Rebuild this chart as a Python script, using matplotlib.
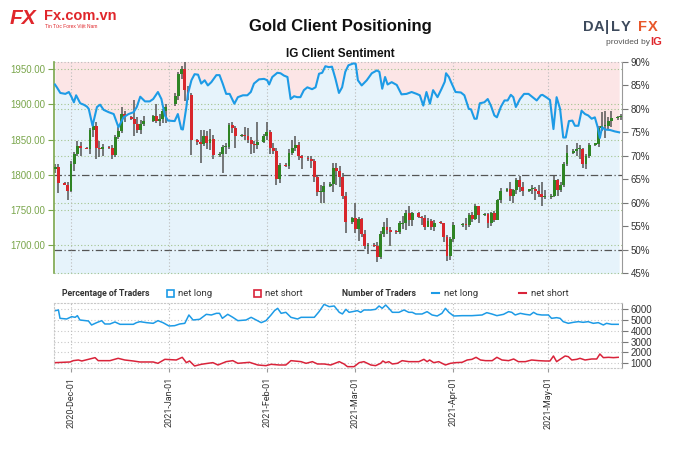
import numpy as np
import matplotlib
matplotlib.use("Agg")
import matplotlib.pyplot as plt
import matplotlib.dates as mdates
from matplotlib.patches import Rectangle
from matplotlib.lines import Line2D

plt.rcParams["font.family"] = ["Liberation Sans", "DejaVu Sans"]
SMALL = ["Roboto", "Liberation Sans", "DejaVu Sans"]

# ---------------------------------------------------------------------------
# Data
# ---------------------------------------------------------------------------

FIRST_DAY, LAST_DAY = "2020-11-26", "2021-05-25"
HOLIDAYS = ["2020-12-25", "2021-01-01", "2021-04-02"]

# daily gold candles, sunday sessions included
OPEN = [1808, 1811, 1788, 1786, 1777, 1815, 1830, 1841, 1838, 1837, 1863, 1870, 1838, 1836,
        1839, 1838, 1828, 1854, 1862, 1887, 1882, 1880, 1872, 1864, 1872, 1876, 1883, 1877,
        1880, 1890, 1900, 1912, 1944, 1950, 1921, 1913, 1849, 1846, 1844, 1855, 1845, 1851,
        1828, 1830, 1840, 1840, 1871, 1866, 1855, 1856, 1855, 1850, 1844, 1842, 1847, 1855,
        1861, 1838, 1834, 1794, 1814, 1812, 1831, 1838, 1842, 1826, 1824, 1822, 1819, 1797,
        1775, 1775, 1784, 1787, 1809, 1806, 1797, 1770, 1733, 1738, 1723, 1737, 1715, 1698,
        1700, 1699, 1683, 1716, 1726, 1722, 1719, 1718, 1730, 1731, 1745, 1736, 1745, 1740,
        1738, 1726, 1734, 1726, 1732, 1731, 1712, 1685, 1708, 1728, 1730, 1728, 1743, 1737,
        1755, 1743, 1744, 1732, 1746, 1736, 1764, 1777, 1779, 1770, 1778, 1793, 1783, 1777,
        1779, 1780, 1777, 1773, 1768, 1768, 1770, 1792, 1778, 1785, 1815, 1831, 1834, 1836,
        1837, 1815, 1826, 1843, 1844, 1867, 1869, 1869, 1877, 1881, 1882]
HIGH = [1815, 1815, 1790, 1790, 1820, 1833, 1848, 1847, 1840, 1866, 1875, 1875, 1848, 1844,
        1841, 1842, 1856, 1868, 1896, 1890, 1884, 1907, 1882, 1878, 1884, 1885, 1900, 1886,
        1893, 1900, 1916, 1946, 1955, 1960, 1926, 1917, 1851, 1864, 1864, 1862, 1865, 1857,
        1832, 1843, 1845, 1873, 1875, 1869, 1858, 1868, 1866, 1853, 1848, 1875, 1858, 1875,
        1864, 1845, 1838, 1816, 1816, 1836, 1849, 1855, 1846, 1828, 1826, 1827, 1823, 1800,
        1785, 1790, 1789, 1816, 1817, 1813, 1802, 1775, 1740, 1760, 1740, 1739, 1722, 1703,
        1703, 1704, 1720, 1733, 1739, 1725, 1722, 1734, 1741, 1750, 1755, 1747, 1747, 1742,
        1743, 1738, 1737, 1736, 1734, 1732, 1714, 1712, 1733, 1731, 1738, 1745, 1747, 1759,
        1756, 1745, 1746, 1747, 1749, 1766, 1781, 1781, 1790, 1779, 1795, 1798, 1789, 1780,
        1786, 1783, 1785, 1790, 1778, 1772, 1798, 1794, 1790, 1818, 1843, 1836, 1845, 1843,
        1838, 1829, 1845, 1845, 1869, 1889, 1890, 1882, 1890, 1884, 1886]
LOW = [1803, 1774, 1785, 1764, 1775, 1806, 1827, 1826, 1836, 1829, 1853, 1822, 1825, 1826,
       1837, 1822, 1825, 1851, 1859, 1875, 1878, 1855, 1860, 1858, 1870, 1875, 1873, 1870,
       1874, 1874, 1898, 1906, 1936, 1905, 1907, 1828, 1843, 1817, 1841, 1837, 1835, 1823,
       1825, 1803, 1830, 1837, 1859, 1838, 1853, 1849, 1845, 1830, 1831, 1836, 1845, 1850,
       1830, 1830, 1785, 1788, 1811, 1808, 1828, 1834, 1821, 1808, 1820, 1810, 1790, 1770,
       1760, 1760, 1783, 1775, 1785, 1782, 1765, 1717, 1730, 1717, 1706, 1712, 1695, 1687,
       1697, 1676, 1680, 1712, 1716, 1699, 1716, 1715, 1723, 1722, 1727, 1727, 1738, 1728,
       1722, 1725, 1721, 1720, 1730, 1705, 1677, 1678, 1705, 1726, 1722, 1725, 1733, 1735,
       1732, 1741, 1724, 1727, 1733, 1735, 1760, 1775, 1762, 1760, 1772, 1776, 1770, 1776,
       1772, 1764, 1769, 1756, 1766, 1766, 1768, 1770, 1776, 1783, 1812, 1830, 1827, 1822,
       1809, 1808, 1824, 1841, 1840, 1862, 1852, 1865, 1868, 1878, 1878]
CLOSE = [1811, 1788, 1786, 1777, 1815, 1830, 1841, 1838, 1837, 1863, 1870, 1838, 1836, 1839,
         1838, 1828, 1854, 1862, 1887, 1882, 1880, 1872, 1864, 1872, 1876, 1883, 1877, 1880,
         1890, 1896, 1912, 1944, 1950, 1921, 1913, 1849, 1846, 1844, 1855, 1845, 1851, 1828,
         1830, 1840, 1840, 1871, 1866, 1855, 1856, 1855, 1850, 1844, 1842, 1847, 1855, 1861,
         1838, 1834, 1794, 1814, 1812, 1831, 1838, 1842, 1826, 1824, 1822, 1819, 1797, 1775,
         1775, 1784, 1787, 1809, 1806, 1797, 1770, 1733, 1738, 1723, 1737, 1715, 1698, 1700,
         1699, 1683, 1716, 1726, 1722, 1719, 1718, 1731, 1732, 1745, 1736, 1745, 1740, 1738,
         1726, 1734, 1726, 1732, 1731, 1712, 1685, 1708, 1728, 1730, 1728, 1743, 1737, 1755,
         1743, 1744, 1732, 1746, 1736, 1764, 1777, 1779, 1770, 1778, 1793, 1783, 1777, 1779,
         1780, 1777, 1773, 1768, 1769, 1770, 1792, 1778, 1785, 1815, 1831, 1834, 1836, 1837,
         1815, 1826, 1843, 1844, 1867, 1869, 1870, 1877, 1881, 1882, 1884]

# IG client sentiment, % of traders net long (days after 2020-12-01)
SENT_DAY = [-5.1, -4.4, -3.4, -1.8, -0.7, 0.1, 0.9, 1.6, 2.9, 4.0, 5.0, 5.6, 6.8, 8.2, 9.2,
            10.3, 11.9, 13.5, 15.0, 16.6, 18.2, 19.8, 20.8, 21.9, 23.4, 24.9, 26.0, 27.5,
            28.6, 29.7, 30.7, 32.8, 33.8, 34.9, 35.4, 36.5, 37.0, 38.1, 39.1, 40.2, 41.2,
            42.3, 43.3, 44.4, 46.0, 47.0, 48.0, 49.1, 50.2, 51.7, 52.8, 54.4, 55.8, 56.9,
            57.9, 59.5, 61.1, 62.1, 62.7, 63.7, 65.3, 66.3, 67.4, 68.5, 69.5, 70.6, 71.6,
            72.6, 73.7, 74.8, 76.3, 77.4, 78.5, 79.5, 80.5, 81.6, 82.6, 83.7, 84.8, 85.8,
            86.8, 87.8, 89.4, 90.1, 90.8, 92.0, 93.6, 95.2, 96.8, 97.6, 98.5, 99.4, 100.2,
            101.5, 103.1, 104.6, 106.2, 107.8, 109.4, 110.4, 111.5, 112.5, 113.6, 114.6,
            116.0, 117.3, 118.3, 118.7, 119.6, 120.3, 121.7, 123.4, 124.5, 125.9, 126.6,
            127.7, 128.4, 129.4, 130.8, 131.9, 132.9, 134.0, 134.8, 136.1, 137.2, 138.2,
            139.2, 140.0, 140.8, 142.1, 143.4, 144.8, 146.1, 147.4, 148.7, 149.2, 150.6,
            151.6, 152.7, 153.7, 154.8, 155.8, 156.6, 157.6, 158.7, 159.5, 160.6, 161.6,
            162.7, 163.7, 164.8, 165.8, 166.7, 167.4, 168.1, 169.0, 170.6, 172.1, 173.5]
SENT_LONG = [85.2, 84.5, 83.4, 83.2, 83.6, 82.6, 81.4, 82.9, 81.2, 80.9, 80.5, 80.0, 76.4,
             80.4, 80.9, 79.8, 79.3, 78.9, 76.1, 78.2, 78.9, 79.3, 80.4, 82.6, 81.6, 81.6,
             82.1, 83.6, 82.1, 78.6, 77.5, 77.4, 78.9, 75.7, 75.6, 80.4, 83.2, 86.1, 87.4,
             87.3, 85.4, 86.1, 85.0, 85.7, 87.2, 87.2, 85.4, 83.2, 83.2, 81.1, 82.5, 82.9,
             82.9, 83.6, 85.4, 86.3, 86.4, 86.1, 85.2, 86.8, 87.7, 87.6, 87.1, 86.8, 82.1,
             82.7, 82.5, 82.5, 84.0, 84.6, 84.2, 84.6, 87.5, 87.7, 89.1, 88.9, 89.0, 86.4,
             83.4, 84.6, 87.9, 89.3, 89.7, 89.6, 86.1, 85.0, 86.1, 87.6, 88.2, 87.9, 84.3,
             86.8, 85.2, 85.7, 85.1, 83.1, 83.2, 83.6, 83.2, 82.9, 80.7, 83.6, 81.1, 84.0,
             82.5, 84.3, 85.8, 87.6, 86.8, 85.7, 83.6, 83.5, 82.9, 80.0, 79.9, 77.9, 77.9,
             81.2, 81.4, 82.1, 80.7, 78.6, 78.2, 80.5, 81.8, 81.8, 83.0, 82.5, 80.4, 82.1,
             83.2, 83.2, 82.5, 81.8, 82.9, 83.0, 82.4, 81.9, 75.7, 82.5, 80.0, 73.9, 73.9,
             77.4, 77.5, 76.4, 76.4, 79.6, 78.9, 78.6, 77.9, 78.2, 76.1, 73.8, 76.1, 75.6,
             75.5, 75.2, 75.0]

# number of traders (days after 2020-12-01)
LONG_DAY = [-5.0, -4.0, -3.5, -1.4, 0.2, 1.3, 2.0, 2.8, 5.5, 6.5, 8.1, 9.7, 10.7, 12.3, 13.9,
            15.5, 17.6, 19.7, 20.7, 21.8, 23.9, 26.0, 27.5, 29.1, 31.0, 32.8, 34.4, 36.0,
            37.3, 38.6, 40.7, 42.8, 44.4, 46.0, 47.0, 47.9, 49.6, 51.2, 52.8, 55.4, 57.0,
            58.6, 60.2, 61.7, 63.3, 64.4, 65.4, 66.5, 68.0, 69.6, 71.7, 72.8, 75.4, 77.0,
            78.5, 80.1, 81.7, 83.3, 84.9, 85.9, 87.0, 88.0, 89.1, 90.6, 91.7, 92.7, 94.9,
            96.4, 97.5, 98.5, 99.6, 100.6, 101.7, 103.8, 105.4, 106.9, 108.0, 109.1, 111.1,
            112.7, 114.3, 115.9, 117.4, 118.5, 119.6, 121.1, 123.8, 126.9, 130.1, 131.6,
            133.2, 134.8, 136.9, 138.5, 139.5, 140.6, 142.2, 143.8, 145.3, 146.4, 147.5,
            149.0, 151.1, 152.1, 153.7, 154.8, 155.8, 157.4, 159.0, 160.6, 162.1, 163.7,
            165.3, 166.9, 168.5, 169.5, 171.1, 173.2]
LONG_COUNT = [5874, 5936, 5164, 5102, 5318, 5257, 5411, 5010, 4917, 4547, 4763, 4948, 4640,
              4640, 4825, 4609, 4609, 4609, 4763, 4855, 4763, 4701, 4948, 4763, 4454, 4485,
              4640, 4701, 5473, 5010, 5072, 5534, 5473, 5627, 5627, 5164, 5534, 5257, 4948,
              5010, 5257, 5010, 4763, 4948, 5473, 5874, 6090, 5627, 5720, 5257, 5102, 5257,
              5257, 5257, 5781, 6460, 6244, 6306, 5720, 5570, 5997, 5720, 5781, 5874, 5720,
              5936, 5936, 5997, 6306, 6090, 6398, 6090, 5720, 5720, 5936, 5720, 5720, 5565,
              5565, 5781, 5473, 5380, 5627, 6090, 5720, 5380, 5411, 5411, 5473, 5689, 5565,
              5411, 5534, 5781, 5720, 5473, 5627, 5534, 5473, 5720, 5534, 5473, 5473, 5164,
              5226, 5164, 4855, 4701, 4794, 4855, 4794, 4855, 4701, 4763, 4547, 4701, 4609,
              4609]
SHORT_DAY = [-5.0, -0.3, 0.7, 2.3, 3.4, 5.5, 7.6, 8.6, 12.3, 14.9, 17.0, 19.7, 21.8, 26.0,
             27.5, 29.7, 33.3, 35.2, 36.5, 37.5, 39.1, 41.2, 43.3, 44.9, 46.5, 49.1, 51.2,
             52.8, 56.5, 59.1, 61.7, 63.3, 65.9, 68.0, 69.6, 72.8, 74.4, 76.4, 78.0, 80.1,
             82.2, 84.9, 86.4, 87.5, 89.6, 91.2, 92.7, 93.8, 94.9, 96.4, 98.0, 98.7, 99.6,
             100.6, 101.7, 103.3, 104.8, 106.9, 110.1, 111.7, 112.7, 113.5, 114.8, 116.4,
             118.5, 120.1, 121.7, 123.8, 125.4, 126.9, 128.2, 129.6, 131.2, 133.3, 134.8,
             136.4, 138.5, 140.1, 141.6, 143.8, 145.8, 148.0, 150.1, 151.6, 152.7, 153.7,
             154.8, 156.4, 157.4, 158.5, 160.1, 161.1, 162.7, 164.8, 166.4, 167.4, 168.5,
             170.1, 171.7, 173.2]
SHORT_COUNT = [1060, 1122, 1245, 1307, 1214, 1368, 1523, 1245, 1245, 1461, 1307, 1214, 1122,
               1122, 998, 1368, 1307, 1554, 1060, 1214, 751, 906, 998, 1060, 844, 1152, 1245,
               998, 1091, 844, 782, 906, 844, 844, 1245, 1152, 998, 1152, 936, 936, 844,
               1152, 936, 689, 689, 1060, 1152, 998, 844, 782, 998, 1214, 1060, 1152, 936,
               998, 1245, 1152, 1152, 1368, 1152, 1307, 1060, 1152, 844, 998, 1060, 1091,
               1307, 1368, 1554, 1307, 1245, 1245, 1554, 1307, 1245, 1399, 1152, 1152, 1307,
               1245, 1214, 1214, 1677, 1152, 1368, 1677, 1615, 1307, 1368, 1461, 1307, 1399,
               1399, 1862, 1523, 1554, 1523, 1554]

PRICE_TICKS = [1700, 1750, 1800, 1850, 1900, 1950]
PCT_TICKS = [45, 50, 55, 60, 65, 70, 75, 80, 85, 90]
COUNT_TICKS = [1000, 2000, 3000, 4000, 5000, 6000]
MONTHS = ["2020-12-01", "2021-01-01", "2021-02-01", "2021-03-01", "2021-04-01", "2021-05-01"]

# ---------------------------------------------------------------------------
# Styling
# ---------------------------------------------------------------------------

UP, DOWN, WICK = "#2f8424", "#d8262c", "#555555"
LINE_BLUE, LINE_RED = "#1d9be6", "#d9233a"
FILL_LONG, FILL_SHORT = "#e6f3fb", "#fce5e6"
GRID_GREEN, AXIS_GREEN = "#a3c48e", "#7aa64c"
TXT = "#333333"
GRID_DOT = (0, (1, 2))
DASH_DOT = (0, (6, 2, 1, 2))

days = np.arange(np.datetime64(FIRST_DAY), np.datetime64(LAST_DAY))
days = days[np.is_busday(days, weekmask="1111101", holidays=HOLIDAYS)]
x = mdates.date2num(days)
o, h, l, c = map(np.array, (OPEN, HIGH, LOW, CLOSE))
base = mdates.date2num(np.datetime64("2020-12-01"))
month_x = mdates.date2num(np.array(MONTHS, dtype="datetime64[D]"))
xlim = (base - 5.4, base + 174.4)

fig = plt.figure(figsize=(6.8, 4.53), dpi=100)

# ---------------------------------------------------------------------------
# Top panel: price candles + sentiment
# ---------------------------------------------------------------------------

ax = fig.add_axes([54 / 680, 1 - 273 / 453, 568 / 680, 211 / 453])
axp = ax.twinx()
axp.set_zorder(0)
ax.set_zorder(1)
ax.patch.set_visible(False)

sx = base + np.array(SENT_DAY)
sy = np.array(SENT_LONG)
axp.fill_between(sx, 0, sy, color=FILL_LONG, lw=0, zorder=0)
axp.fill_between(sx, sy, 100, color=FILL_SHORT, lw=0, zorder=0)
axp.set_facecolor(FILL_LONG)
for t in (60, 70, 80):
    axp.axhline(t, color=GRID_GREEN, ls=GRID_DOT, lw=0.8, zorder=1)
axp.axhline(50, color="#555555", ls=DASH_DOT, lw=0.9, zorder=1)
for mx in month_x:
    axp.axvline(mx, color="#bbbbbb", ls=GRID_DOT, lw=0.8, zorder=1)

for t in PRICE_TICKS:
    if t == 1800:
        ax.axhline(t, color="#555555", ls=DASH_DOT, lw=0.9, zorder=1)
    else:
        ax.axhline(t, color=GRID_GREEN, ls=GRID_DOT, lw=0.8, zorder=1)

up = c >= o
colors = np.where(up, UP, DOWN)
ax.vlines(x, l, h, color=WICK, lw=1.1, zorder=2)
body = np.maximum(np.abs(c - o), 1.5)
ax.bar(x, body, bottom=np.minimum(o, c), width=0.9, color=colors, lw=0, zorder=3)

ax.plot(sx, sy, color=LINE_BLUE, lw=1.5, transform=axp.transData, zorder=4,
        solid_joinstyle="round")

ax.set_xlim(*xlim)
ax.set_ylim(1660.2, 1960.4)
axp.set_ylim(45, 90)

ax.set_yticks(PRICE_TICKS)
ax.set_yticklabels([f"{t:.2f}" for t in PRICE_TICKS])
ax.tick_params(axis="y", colors=AXIS_GREEN, labelsize=7, length=4, width=0.8, pad=2)
ax.tick_params(axis="x", bottom=False, labelbottom=False)
axp.set_yticks(PCT_TICKS)
axp.set_yticklabels([f"{t}%" for t in PCT_TICKS])
axp.tick_params(axis="y", colors="#777777", labelsize=7, length=4, width=0.8, pad=2)
axp.tick_params(axis="x", bottom=False, labelbottom=False)
for lab in axp.get_yticklabels():
    lab.set_color(TXT)
for lab in ax.get_yticklabels():
    lab.set_color(AXIS_GREEN)

for a in (ax, axp):
    for s in a.spines.values():
        s.set_visible(False)
ax.spines["left"].set_visible(True)
ax.spines["left"].set_color(AXIS_GREEN)
ax.spines["left"].set_linewidth(1.2)
axp.spines["right"].set_visible(True)
axp.spines["right"].set_color("#999999")
ax.axhline(1960.4, color="#bbbbbb", ls=GRID_DOT, lw=0.8, zorder=1, clip_on=False)
ax.axhline(1660.2, color=GRID_GREEN, ls=GRID_DOT, lw=0.8, zorder=1, clip_on=False)

# ---------------------------------------------------------------------------
# Bottom panel: number of traders
# ---------------------------------------------------------------------------

axb = fig.add_axes([54 / 680, 1 - 368.3 / 453, 568 / 680, 65 / 453])
axb.plot(base + np.array(LONG_DAY), LONG_COUNT, color=LINE_BLUE, lw=1.1)
axb.plot(base + np.array(SHORT_DAY), SHORT_COUNT, color=LINE_RED, lw=1.1)
axb.set_xlim(*xlim)
axb.set_ylim(537, 6555)
for t in COUNT_TICKS:
    axb.axhline(t, color="#c8c8c8", ls=GRID_DOT, lw=0.8, zorder=0)
for mx in month_x:
    axb.axvline(mx, color="#bbbbbb", ls=GRID_DOT, lw=0.8, zorder=0)
axb.yaxis.tick_right()
axb.set_yticks(COUNT_TICKS)
axb.tick_params(axis="y", colors="#777777", labelsize=7, length=4, width=0.8, pad=2)
for lab in axb.get_yticklabels():
    lab.set_color(TXT)
axb.set_xticks(month_x)
axb.xaxis.set_major_formatter(mdates.DateFormatter("%Y-%b-%d"))
axb.tick_params(axis="x", labelsize=6.5, labelrotation=90, length=3, color="#999999",
                labelcolor=TXT, pad=3)
for lab in axb.get_xticklabels():
    lab.set_family(SMALL)
for name, s in axb.spines.items():
    if name == "right":
        s.set_color("#999999")
    else:
        s.set_color("#c8c8c8")
        s.set_linestyle(GRID_DOT)
        s.set_linewidth(0.8)

# legend row
fig.text(62 / 680, 1 - 293 / 453, "Percentage of Traders", fontsize=6.3, weight="bold",
         color=TXT, va="center", family=SMALL)
fig.text(342 / 680, 1 - 293 / 453, "Number of Traders", fontsize=6.3, weight="bold",
         color=TXT, va="center", family=SMALL)
for px, col, lab in ((167, LINE_BLUE, "net long"), (254, LINE_RED, "net short")):
    fig.patches.append(Rectangle((px / 680, 1 - 297 / 453), 7 / 680, 7 / 453,
                                 transform=fig.transFigure, facecolor="white",
                                 edgecolor=col, lw=1.2))
    fig.text((px + 11) / 680, 1 - 293 / 453, lab, fontsize=6.8, color=TXT, va="center",
             family=SMALL)
for px, col, lab in ((432, LINE_BLUE, "net long"), (519, LINE_RED, "net short")):
    fig.lines.append(Line2D([px / 680, (px + 7) / 680], [1 - 293 / 453] * 2,
                            transform=fig.transFigure, color=col, lw=1.5))
    fig.text((px + 12) / 680, 1 - 293 / 453, lab, fontsize=6.8, color=TXT, va="center",
             family=SMALL)

# ---------------------------------------------------------------------------
# Titles and logos
# ---------------------------------------------------------------------------

fig.text(0.5, 1 - 27 / 453, "Gold Client Positioning", ha="center", va="center",
         fontsize=12, weight="bold", color="#111111")
fig.text(0.5, 1 - 54 / 453, "IG Client Sentiment", ha="center", va="center",
         fontsize=8.5, weight="bold", color="#111111")

fig.text(10 / 680, 1 - 18 / 453, "FX", fontsize=15, weight="bold", style="italic",
         color="#e0262b", va="center")
fig.text(44 / 680, 1 - 16 / 453, "Fx.com.vn", fontsize=10.5, weight="bold",
         color="#e0262b", va="center")
fig.text(45 / 680, 1 - 26 / 453, "Tin Tức Forex Việt Nam", fontsize=3.5,
         color="#e0262b", va="center")

for ch, px, col in (("D", 583, "#3d4a5c"), ("A", 594, "#3d4a5c"), ("|", 605, "#3d4a5c"),
                    ("L", 611, "#3d4a5c"), ("Y", 621, "#3d4a5c"), ("F", 638, "#e8572a"),
                    ("X", 648, "#e8572a")):
    fig.text(px / 680, 1 - 27 / 453, ch, fontsize=10.5, weight="bold", color=col,
             va="center")
fig.text(606 / 680, 1 - 42 / 453, "provided by", fontsize=6, color="#555555",
         va="center")
fig.text(650 / 680, 1 - 42 / 453, "IG", fontsize=8, weight="bold", color="#e0262b",
         va="center")

fig.savefig("out.png", dpi=100)
